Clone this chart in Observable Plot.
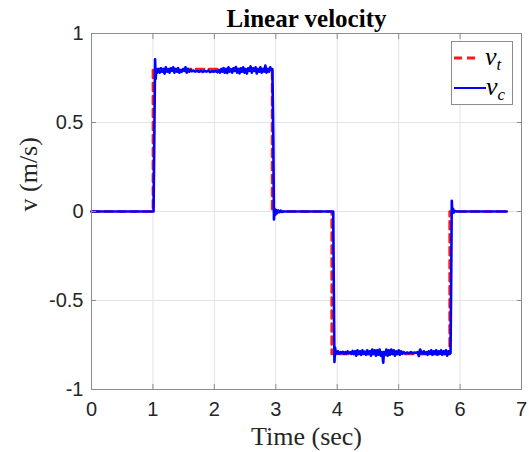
<!DOCTYPE html>
<html>
<head>
<meta charset="utf-8">
<script src="https://cdn.jsdelivr.net/npm/d3@7"></script>
<script src="https://cdn.jsdelivr.net/npm/@observablehq/plot@0.6"></script>
<style>
  html, body { margin: 0; padding: 0; background: #fff; }
  #wrap { position: relative; width: 529px; height: 452px; }
  #legend { position: absolute; left: 451px; top: 41px; width: 60px; height: 62px;
    border: 1px solid #8c8c8c; background: #fff; font-family: "Liberation Serif", serif; }
  .li { position: absolute; left: 2px; height: 30px; display: flex; align-items: center; }
  .li svg { display: block; }
  .lt { font-family: "Liberation Serif", serif; font-style: italic; font-size: 26px; line-height: 1; margin-left: 5px; }
  .lt sub { font-size: 17px; vertical-align: -5px; }
</style>
</head>
<body>
<div id="wrap"></div>
<script>
const titleText = "Linear velocity";
const xLabel = "Time (sec)";
const yLabel = "v (m/s)";
const xTicks = [0, 1, 2, 3, 4, 5, 6, 7];
const yTicks = [-1, -0.5, 0, 0.5, 1];
const yTickLabels = ["-1", "-0.5", "0", "0.5", "1"];

// target velocity v_t (time, value)
const targetT = [0, 1.0, 1.0, 2.94, 2.94, 3.91, 3.91, 5.83, 5.83, 6.76];
const targetV = [0, 0, 0.8, 0.8, 0, 0, -0.8, -0.8, 0, 0];

// measured velocity v_c as [time, value]
const vc = [
[0,0],[1.01,0],[1.025,0.50],[1.035,0.855],[1.045,0.745],[1.055,0.80],
[1.07,0.78],[1.09,0.80],[1.11,0.78],[1.13,0.805],[1.15,0.785],[1.17,0.80],[1.19,0.775],[1.21,0.81],[1.23,0.785],[1.25,0.80],
[1.27,0.78],[1.29,0.805],[1.31,0.79],[1.33,0.81],[1.35,0.78],[1.37,0.80],[1.39,0.785],[1.41,0.805],[1.43,0.78],[1.45,0.795],
[1.47,0.785],[1.49,0.80],[1.51,0.79],[1.53,0.81],[1.55,0.78],[1.57,0.80],[1.59,0.785],[1.61,0.795],[1.63,0.788],[1.66,0.792],
[1.69,0.786],[1.72,0.79],[1.75,0.785],[1.78,0.79],[1.81,0.784],[1.84,0.79],[1.87,0.786],[1.90,0.792],[1.93,0.783],[1.96,0.788],
[1.99,0.785],[2.02,0.79],[2.05,0.782],[2.07,0.795],[2.09,0.78],[2.11,0.80],[2.13,0.785],[2.15,0.805],[2.17,0.78],[2.19,0.80],
[2.21,0.778],[2.23,0.81],[2.25,0.786],[2.27,0.80],[2.29,0.78],[2.31,0.805],[2.33,0.79],[2.35,0.812],[2.37,0.78],[2.39,0.80],
[2.41,0.776],[2.43,0.805],[2.45,0.785],[2.47,0.81],[2.49,0.78],[2.51,0.80],[2.53,0.775],[2.55,0.805],[2.57,0.79],[2.59,0.815],
[2.61,0.78],[2.63,0.805],[2.65,0.79],[2.67,0.81],[2.69,0.775],[2.71,0.80],[2.73,0.785],[2.75,0.81],[2.77,0.78],[2.79,0.80],
[2.81,0.785],[2.83,0.82],[2.85,0.78],[2.87,0.80],[2.89,0.785],[2.91,0.81],[2.93,0.795],[2.945,0.80],
[2.96,0.40],[2.97,-0.045],[2.98,0.015],[2.99,-0.02],[3.00,0.01],[3.02,-0.01],[3.04,0.006],[3.06,-0.004],[3.08,0.005],[3.10,-0.002],
[3.13,0],[3.935,0],
[3.945,-0.45],[3.955,-0.845],[3.965,-0.765],[3.975,-0.79],[3.99,-0.80],
[4.01,-0.785],[4.03,-0.80],[4.05,-0.79],[4.07,-0.795],[4.09,-0.788],[4.11,-0.80],[4.13,-0.79],[4.15,-0.798],[4.17,-0.786],[4.19,-0.796],
[4.21,-0.79],[4.23,-0.80],[4.25,-0.783],[4.27,-0.80],[4.29,-0.785],[4.31,-0.81],[4.33,-0.78],[4.35,-0.80],[4.37,-0.785],[4.39,-0.805],
[4.41,-0.78],[4.43,-0.80],[4.45,-0.787],[4.47,-0.805],[4.49,-0.78],[4.51,-0.80],[4.53,-0.785],[4.55,-0.81],[4.57,-0.775],[4.59,-0.80],
[4.61,-0.78],[4.63,-0.81],[4.65,-0.78],[4.67,-0.805],[4.69,-0.775],[4.71,-0.81],[4.73,-0.79],[4.75,-0.85],[4.76,-0.79],[4.78,-0.805],
[4.80,-0.775],[4.82,-0.81],[4.84,-0.78],[4.86,-0.805],[4.88,-0.775],[4.90,-0.80],[4.92,-0.78],[4.94,-0.81],[4.96,-0.785],[4.98,-0.80],
[5.00,-0.78],[5.02,-0.805],[5.04,-0.785],[5.06,-0.80],[5.08,-0.79],[5.11,-0.798],[5.14,-0.792],[5.17,-0.797],[5.20,-0.79],[5.23,-0.796],
[5.26,-0.792],[5.29,-0.795],[5.31,-0.79],[5.33,-0.812],[5.35,-0.775],[5.37,-0.79],[5.39,-0.80],[5.41,-0.785],[5.43,-0.80],[5.45,-0.79],
[5.47,-0.805],[5.49,-0.785],[5.51,-0.80],[5.53,-0.78],[5.55,-0.805],[5.57,-0.785],[5.59,-0.80],[5.61,-0.78],[5.63,-0.805],[5.65,-0.785],
[5.67,-0.80],[5.69,-0.78],[5.71,-0.805],[5.73,-0.785],[5.75,-0.80],[5.77,-0.78],[5.79,-0.81],[5.81,-0.785],[5.83,-0.80],[5.845,-0.795],
[5.855,-0.40],[5.865,0.06],[5.875,-0.01],[5.885,0.015],[5.90,-0.005],[5.92,0.003],[5.95,0],[6.76,0]
];

const target = targetT.map((t, i) => ({t, v: targetV[i]}));
const meas = vc.map(([t, v]) => ({t, v}));

const frameColor = "#8c8c8c";
const sans = "'Liberation Sans', Arial, sans-serif";
const serif = "'Liberation Serif', 'Times New Roman', serif";

const chart = Plot.plot({
  width: 529,
  height: 452,
  marginLeft: 91,
  marginRight: 8,
  marginTop: 33,
  marginBottom: 63,
  style: {fontFamily: sans, background: "#fff", overflow: "visible"},
  x: {domain: [0, 7]},
  y: {domain: [-1, 1]},
  marks: [
    Plot.gridX(xTicks, {stroke: "#e3e3e3", strokeOpacity: 1}),
    Plot.gridY(yTicks, {stroke: "#e3e3e3", strokeOpacity: 1}),
    Plot.line(target, {x: "t", y: "v", stroke: "#ff1a1a", strokeWidth: 2.6, strokeDasharray: "8,5"}),
    Plot.line(meas, {x: "t", y: "v", stroke: "#0000ff", strokeWidth: 2.6}),
    Plot.frame({stroke: frameColor}),
    Plot.axisX(xTicks, {anchor: "bottom", tickSize: 0, tickPadding: 12, fontSize: 20, color: "#262626", label: null}),
    Plot.axisX(xTicks, {anchor: "bottom", tickSize: -5, tickFormat: () => "", stroke: frameColor, label: null}),
    Plot.axisX(xTicks, {anchor: "top", tickSize: -5, tickFormat: () => "", stroke: frameColor, label: null}),
    Plot.axisY(yTicks, {anchor: "left", tickSize: 0, tickPadding: 8, fontSize: 20, color: "#262626",
      tickFormat: d => yTickLabels[yTicks.indexOf(d)], label: null}),
    Plot.axisY(yTicks, {anchor: "left", tickSize: -5, tickFormat: () => "", stroke: frameColor, label: null}),
    Plot.axisY(yTicks, {anchor: "right", tickSize: -5, tickFormat: () => "", stroke: frameColor, label: null}),
    Plot.text([titleText], {frameAnchor: "top", lineAnchor: "bottom", dy: -7, fontSize: 25, fontWeight: "bold",
      fontFamily: serif, fill: "#000", text: d => d}),
    Plot.text([xLabel], {frameAnchor: "bottom", lineAnchor: "top", dy: 37, fontSize: 26,
      fontFamily: serif, fill: "#262626", text: d => d}),
    Plot.text([yLabel], {frameAnchor: "left", rotate: -90, dx: -63, fontSize: 26,
      fontFamily: serif, fill: "#262626", text: d => d})
  ]
});

const wrap = document.getElementById("wrap");
wrap.appendChild(chart);

const legend = document.createElement("div");
legend.id = "legend";
legend.innerHTML = `
  <div class="li" style="top:1px"><svg width="26" height="6"><line x1="0" y1="3" x2="26" y2="3" stroke="#ff1a1a" stroke-width="3" stroke-dasharray="8,5"/></svg><span class="lt">v<sub>t</sub></span></div>
  <div class="li" style="top:31px"><svg width="32" height="6"><line x1="0" y1="3" x2="32" y2="3" stroke="#0000ff" stroke-width="2"/></svg><span class="lt" style="margin-left:0">v<sub>c</sub></span></div>`;
wrap.appendChild(legend);
</script>
</body>
</html>
